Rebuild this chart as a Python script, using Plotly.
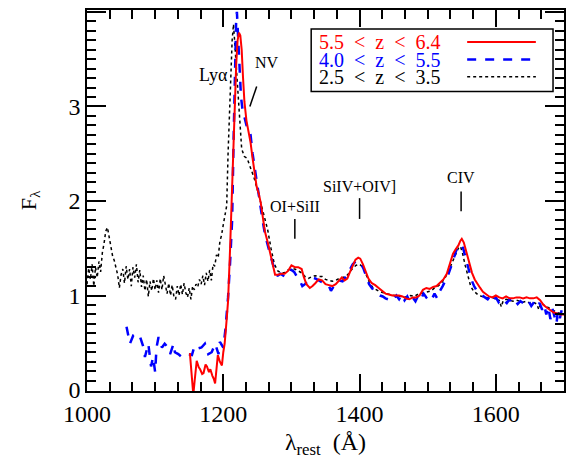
import plotly.graph_objects as go

# composite spectra
wl_hiz = [1151, 1154, 1156, 1158, 1161, 1164, 1166, 1169, 1171, 1174, 1176, 1179, 1181, 1184, 1186,
          1188, 1190, 1192, 1195, 1198, 1200, 1202, 1205, 1207, 1210, 1213, 1216, 1219, 1221, 1223,
          1225, 1227, 1229, 1231, 1234, 1237, 1240, 1243, 1246, 1249, 1252, 1255, 1258, 1261, 1265,
          1269, 1273, 1276, 1280, 1285, 1290, 1295, 1300, 1305, 1310, 1315, 1318, 1322, 1327, 1331,
          1335, 1340, 1345, 1350, 1355, 1360, 1365, 1370, 1374, 1378, 1382, 1386, 1390, 1394, 1398,
          1401, 1405, 1409, 1413, 1418, 1423, 1428, 1433, 1438, 1443, 1448, 1453, 1458, 1463, 1468,
          1473, 1478, 1483, 1488, 1493, 1498, 1503, 1508, 1513, 1518, 1523, 1528, 1533, 1537, 1541,
          1545, 1548, 1550, 1553, 1556, 1559, 1562, 1565, 1569, 1573, 1577, 1581, 1585, 1590, 1595,
          1600, 1605, 1610, 1615, 1620, 1625, 1630, 1635, 1640, 1645, 1650, 1655, 1660, 1665, 1670,
          1675, 1680, 1685, 1690, 1695, 1700]
f_hiz = [0.39, 0.15, -0.05, 0.10, 0.31, 0.24, 0.22, 0.17, 0.18, 0.27, 0.25, 0.19, 0.22, 0.15, 0.12,
         0.07, 0.25, 0.37, 0.30, 0.26, 0.40, 0.49, 0.75, 0.94, 1.50, 2.20, 2.90, 3.45, 3.70, 3.78,
         3.75, 3.60, 3.30, 3.05, 2.85, 2.75, 2.62, 2.45, 2.30, 2.15, 2.08, 1.98, 1.83, 1.68, 1.57,
         1.45, 1.32, 1.22, 1.22, 1.23, 1.23, 1.26, 1.32, 1.30, 1.30, 1.28, 1.20, 1.12, 1.08, 1.10,
         1.13, 1.17, 1.16, 1.12, 1.11, 1.10, 1.12, 1.16, 1.19, 1.16, 1.18, 1.25, 1.32, 1.38, 1.40,
         1.39, 1.33, 1.25, 1.18, 1.13, 1.11, 1.08, 1.05, 1.02, 1.01, 1.00, 1.00, 1.00, 0.99, 0.97,
         0.96, 0.98, 0.98, 1.00, 1.06, 1.08, 1.07, 1.09, 1.10, 1.13, 1.17, 1.23, 1.34, 1.44, 1.49,
         1.53, 1.58, 1.60, 1.56, 1.48, 1.39, 1.31, 1.24, 1.17, 1.12, 1.08, 1.04, 1.02, 0.99, 0.98,
         1.00, 0.98, 0.97, 0.99, 0.97, 0.97, 0.98, 0.98, 0.97, 0.98, 0.97, 0.97, 0.98, 0.95, 0.90,
         0.87, 0.84, 0.82, 0.81, 0.80, 0.80]

wl_midz = [1058, 1061, 1063, 1068, 1073, 1078, 1083, 1085, 1090, 1094, 1097, 1100, 1102, 1105, 1110,
           1114, 1119, 1122, 1127, 1129, 1134, 1139, 1144, 1149, 1154, 1158, 1163, 1168, 1173, 1178,
           1183, 1188, 1193, 1195, 1200, 1203, 1205, 1207, 1210, 1213, 1215, 1217, 1219, 1220, 1222,
           1224, 1226, 1228, 1231, 1234, 1237, 1240, 1243, 1246, 1249, 1252, 1255, 1258, 1262, 1266,
           1270, 1274, 1277, 1280, 1284, 1288, 1292, 1296, 1300, 1304, 1308, 1312, 1316, 1320, 1325,
           1330, 1335, 1340, 1345, 1350, 1355, 1358, 1361, 1365, 1370, 1375, 1380, 1385, 1390, 1394,
           1398, 1402, 1406, 1410, 1414, 1418, 1422, 1426, 1430, 1434, 1438, 1442, 1446, 1450, 1454,
           1458, 1462, 1466, 1470, 1474, 1478, 1482, 1486, 1490, 1494, 1498, 1502, 1506, 1510, 1514,
           1518, 1522, 1526, 1530, 1534, 1538, 1542, 1546, 1549, 1552, 1555, 1558, 1561, 1564, 1568,
           1572, 1576, 1580, 1584, 1588, 1592, 1596, 1600, 1604, 1608, 1612, 1616, 1620, 1624, 1628,
           1632, 1636, 1640, 1644, 1648, 1652, 1656, 1660, 1664, 1668, 1671, 1674, 1677, 1680, 1683,
           1686, 1689, 1691, 1694, 1697, 1700]
f_midz = [0.67, 0.56, 0.49, 0.58, 0.60, 0.56, 0.45, 0.35, 0.49, 0.25, 0.35, 0.19, 0.45, 0.56, 0.45,
          0.49, 0.45, 0.38, 0.49, 0.40, 0.38, 0.35, 0.37, 0.38, 0.37, 0.47, 0.44, 0.45, 0.49, 0.38,
          0.40, 0.49, 0.38, 0.51, 0.45, 0.63, 0.77, 0.98, 1.35, 1.80, 2.60, 3.50, 3.95, 4.00, 3.70,
          3.35, 3.10, 2.98, 2.88, 2.80, 2.77, 2.70, 2.50, 2.35, 2.22, 2.07, 1.95, 1.78, 1.62, 1.52,
          1.42, 1.30, 1.22, 1.21, 1.23, 1.21, 1.24, 1.28, 1.27, 1.25, 1.20, 1.16, 1.10, 1.12, 1.16,
          1.19, 1.18, 1.16, 1.14, 1.11, 1.10, 1.05, 1.09, 1.13, 1.16, 1.15, 1.20, 1.26, 1.33, 1.36,
          1.37, 1.34, 1.28, 1.20, 1.12, 1.08, 1.04, 1.02, 1.00, 0.99, 0.97, 0.96, 0.94, 0.97, 1.00,
          0.96, 1.01, 0.95, 0.99, 0.93, 0.98, 0.94, 1.00, 0.96, 1.02, 0.98, 1.00, 0.96, 1.02, 0.97,
          1.05, 1.10, 1.16, 1.22, 1.30, 1.40, 1.48, 1.53, 1.54, 1.50, 1.42, 1.33, 1.25, 1.17, 1.10,
          1.05, 1.02, 1.00, 0.98, 0.96, 1.00, 0.95, 0.98, 0.93, 0.97, 0.94, 0.92, 0.96, 0.92, 0.95,
          0.91, 0.94, 0.92, 0.90, 0.94, 0.89, 0.93, 0.88, 0.92, 0.85, 0.90, 0.80, 0.88, 0.75, 0.86,
          0.78, 0.70, 0.84, 0.76, 0.86, 0.82]

wl_lowz = [1000, 1002.5, 1005, 1007.5, 1010, 1012.5, 1015, 1017.5, 1020, 1022.5, 1025, 1027.5, 1030,
           1032.5, 1035, 1037.5, 1040, 1042.5, 1045, 1047.5, 1050, 1052.5, 1055, 1057.5, 1060, 1062.5,
           1065, 1067.5, 1070, 1072.5, 1075, 1077.5, 1080, 1082.5, 1085, 1087.5, 1090, 1092.5, 1095,
           1097.5, 1100, 1102.5, 1105, 1107.5, 1110, 1112.5, 1115, 1117.5, 1120, 1122.5, 1125, 1127.5,
           1130, 1132.5, 1135, 1137.5, 1140, 1142.5, 1145, 1147.5, 1150, 1152.5, 1155, 1157.5, 1160,
           1162.5, 1165, 1167.5, 1170, 1172.5, 1175, 1177.5, 1180, 1182.5, 1185, 1187.5, 1190, 1192.5,
           1195, 1197.5, 1200, 1202.5, 1205, 1207, 1210, 1213, 1215, 1218, 1221, 1224, 1227, 1231,
           1235, 1240, 1245, 1250, 1255, 1260, 1265, 1270, 1275, 1280, 1285, 1290, 1295, 1300, 1305,
           1310, 1315, 1320, 1325, 1330, 1335, 1340, 1345, 1350, 1355, 1360, 1365, 1370, 1375, 1380,
           1385, 1390, 1395, 1400, 1405, 1410, 1415, 1420, 1425, 1430, 1435, 1440, 1445, 1450, 1455,
           1460, 1465, 1470, 1475, 1480, 1485, 1490, 1495, 1500, 1505, 1510, 1515, 1520, 1525, 1530,
           1535, 1540, 1545, 1548, 1551, 1555, 1559, 1563, 1567, 1571, 1575, 1580, 1585, 1590, 1595,
           1600, 1605, 1608, 1611, 1615, 1620, 1625, 1630, 1635, 1640, 1645, 1650, 1655, 1660, 1663,
           1666, 1670, 1675, 1680, 1685, 1690, 1695, 1700]
f_lowz = [1.12, 1.29, 1.17, 1.33, 1.10, 1.30, 1.19, 1.36, 1.25, 1.45, 1.55, 1.68, 1.72,
          1.62, 1.50, 1.42, 1.37, 1.28, 1.22, 1.08, 1.22, 1.28, 1.13, 1.31, 1.17, 1.28,
          1.10, 1.30, 1.19, 1.33, 1.14, 1.27, 1.09, 1.21, 1.05, 1.17, 0.99, 1.15, 1.05,
          1.18, 1.06, 1.16, 1.03, 1.18, 1.06, 1.21, 1.09, 1.02, 1.13, 1.00, 1.11, 0.99,
          0.96, 1.10, 1.00, 1.12, 1.01, 1.13, 1.03, 0.98, 1.08, 0.96, 1.10, 1.06, 1.12,
          1.09, 1.17, 1.12, 1.21, 1.11, 1.24, 1.15, 1.27, 1.16, 1.33, 1.31, 1.43, 1.40,
          1.57, 1.64, 1.75, 1.85, 1.95, 2.50, 3.20, 3.70, 3.87, 3.55, 3.20, 2.85, 2.55, 2.47,
          2.45, 2.35, 2.25, 2.12, 1.98, 1.85, 1.70, 1.50, 1.33, 1.26, 1.24, 1.24, 1.27, 1.28, 1.28,
          1.26, 1.24, 1.20, 1.18, 1.20, 1.21, 1.20, 1.20, 1.17, 1.16, 1.15, 1.16, 1.18, 1.19, 1.20,
          1.24, 1.29, 1.32, 1.33, 1.30, 1.22, 1.13, 1.08, 1.06, 1.04, 1.03, 1.02, 1.01, 1.00, 1.00,
          0.99, 0.99, 0.98, 1.00, 0.99, 1.01, 1.02, 1.03, 1.04, 1.05, 1.08, 1.10, 1.13, 1.18, 1.25,
          1.33, 1.42, 1.50, 1.52, 1.45, 1.32, 1.20, 1.10, 1.05, 1.02, 1.00, 0.99, 0.98, 0.97, 0.98,
          0.96, 0.95, 0.88, 0.95, 0.96, 0.95, 0.94, 0.95, 0.94, 0.93, 0.94, 0.92, 0.93, 0.91, 0.85,
          0.92, 0.90, 0.88, 0.86, 0.84, 0.82, 0.81, 0.80]

# emission line labels
line_names = ["OI+SiII", "SiIV+OIV]", "CIV"]
line_wl = [1305, 1400, 1549]
line_text_y = [1.94, 2.15, 2.25]
line_tick_y0 = [1.60, 1.81, 1.89]
line_tick_y1 = [1.81, 2.03, 2.10]

legend_labels = ["5.5 &lt; z &lt; 6.4", "4.0 &lt; z &lt; 5.5", "2.5 &lt; z &lt; 3.5"]
colors = ["red", "blue", "black"]
dashes = ["solid", "dash", "dot"]
widths = [2, 2.5, 1.5]

x_range = [1000, 1700]
y_range = [-0.01, 4.02]
serif = "Liberation Serif"

fig = go.Figure()
fig.add_trace(go.Scatter(x=wl_lowz, y=f_lowz, mode="lines",
                         line=dict(color="black", dash="dot", width=1.5)))
fig.add_trace(go.Scatter(x=wl_midz, y=f_midz, mode="lines",
                         line=dict(color="blue", dash="dash", width=2.5)))
fig.add_trace(go.Scatter(x=wl_hiz, y=f_hiz, mode="lines",
                         line=dict(color="red", width=2)))

for name, wl, ty_, y0, y1 in zip(line_names, line_wl, line_text_y, line_tick_y0, line_tick_y1):
    fig.add_annotation(x=wl, y=ty_, text=name, showarrow=False,
                       font=dict(family=serif, size=16, color="black"))
    fig.add_shape(type="line", x0=wl, x1=wl, y0=y0, y1=y1,
                  line=dict(color="black", width=1.5))

fig.add_annotation(x=1186, y=3.33, text="Lyα", showarrow=False,
                   font=dict(family=serif, size=18, color="black"))
fig.add_annotation(x=1264, y=3.46, text="NV", showarrow=False,
                   font=dict(family=serif, size=16, color="black"))
fig.add_shape(type="line", x0=1249, y0=3.21, x1=1239, y1=3.00,
              line=dict(color="black", width=1.5))

# legend drawn by hand: label first, line sample after
fig.add_shape(type="rect", xref="paper", yref="paper", x0=0.470, x1=0.977, y0=0.786, y1=0.950,
              line=dict(color="black", width=1.5), fillcolor="white", layer="above")
rows_y = [0.916, 0.870, 0.825]
for lab, col, dsh, w, ry in zip(legend_labels, colors, dashes, widths, rows_y):
    txt = lab.replace(" ", "\u00a0\u00a0")
    fig.add_annotation(xref="paper", yref="paper", x=0.482, y=ry, text=txt, showarrow=False,
                       xanchor="left", yanchor="middle",
                       font=dict(family=serif, size=20, color=col))
    fig.add_shape(type="line", xref="paper", yref="paper", x0=0.797, x1=0.941, y0=ry, y1=ry,
                  line=dict(color=col, dash=dsh, width=w), layer="above")

fig.update_xaxes(range=x_range, tick0=1000, dtick=200,
                 ticks="inside", ticklen=17, tickwidth=2, tickcolor="#000000",
                 minor=dict(dtick=200 / 6, ticks="inside", ticklen=9, tickwidth=2,
                            tickcolor="#000000"),
                 showline=True, linecolor="black", linewidth=1.5, mirror="allticks",
                 tickfont=dict(family=serif, size=24, color="black"),
                 title=dict(text="λ<sub>rest</sub>  (Å)", standoff=8,
                            font=dict(family=serif, size=24, color="black")))
fig.update_yaxes(range=y_range, tick0=0, dtick=1,
                 ticks="inside", ticklen=19, tickwidth=2, tickcolor="#000000",
                 minor=dict(dtick=0.1, ticks="inside", ticklen=9, tickwidth=2,
                            tickcolor="#000000"),
                 showline=True, linecolor="black", linewidth=1.5, mirror="allticks",
                 tickfont=dict(family=serif, size=24, color="black"),
                 title=dict(text="F<sub>λ</sub>", standoff=26,
                            font=dict(family=serif, size=22, color="black")))

fig.update_layout(width=581, height=474, showlegend=False,
                  plot_bgcolor="white", paper_bgcolor="white",
                  margin=dict(l=79, r=25, t=0, b=91),
                  xaxis_showgrid=False, yaxis_showgrid=False,
                  xaxis_zeroline=False, yaxis_zeroline=False)

fig.write_html("out.html")
